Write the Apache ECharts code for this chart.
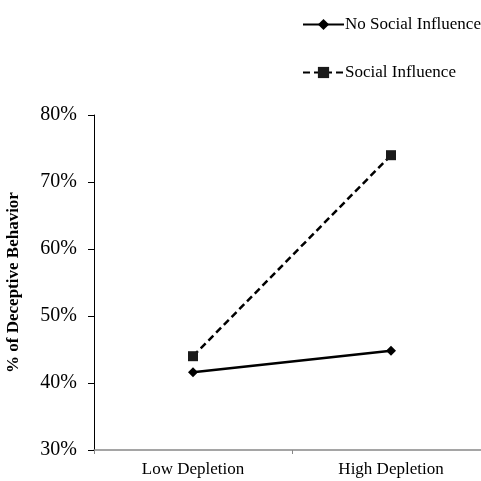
<!DOCTYPE html>
<html>
<head>
<meta charset="utf-8">
<script src="https://cdn.jsdelivr.net/npm/echarts@6/dist/echarts.min.js"></script>
<style>html,body{margin:0;padding:0;background:#fff;overflow:hidden;width:481px;height:481px}#c{width:490px;height:481px}</style>
</head>
<body>
<div id="c"></div>
<script>
var categories = ['Low Depletion', 'High Depletion'];
var noSocialInfluence = [41.6, 44.8];
var socialInfluence = [44.0, 74.0];
var seriesNames = ['No Social Influence', 'Social Influence'];
var yTicks = [30, 40, 50, 60, 70, 80];

var font = 'Liberation Serif';
var chart = echarts.init(document.getElementById('c'));
chart.setOption({
  animation: false,
  backgroundColor: '#fff',
  legend: {
    orient: 'vertical',
    left: 297,
    top: 11,
    itemWidth: 41,
    itemHeight: 14,
    itemGap: 31,
    data: seriesNames,
    textStyle: { fontFamily: font, fontSize: 17, lineHeight: 14, color: '#000', padding: [0, 0, 0, -4] }
  },
  grid: { left: 94, right: 0, top: 115, bottom: 31, outerBoundsMode: 'none', containLabel: false },
  xAxis: {
    type: 'category',
    data: categories,
    boundaryGap: true,
    splitLine: { show: false },
    axisLine: { lineStyle: { color: '#888', width: 1.5 } },
    axisTick: { show: true, length: 4, lineStyle: { color: '#888' } },
    axisLabel: { fontFamily: font, fontSize: 17, color: '#000', margin: 11 }
  },
  yAxis: {
    type: 'value',
    min: yTicks[0],
    max: yTicks[yTicks.length - 1],
    interval: 10,
    name: '% of Deceptive Behavior',
    nameLocation: 'middle',
    nameGap: 72,
    nameTextStyle: { fontFamily: font, fontSize: 17, fontWeight: 'bold', color: '#000' },
    splitLine: { show: false },
    axisLine: { show: true, lineStyle: { color: '#000', width: 1 } },
    axisTick: { show: true, length: 6, lineStyle: { color: '#000' } },
    axisLabel: { formatter: '{value}%', fontFamily: font, fontSize: 20, color: '#000', margin: 17 }
  },
  series: [
    {
      name: seriesNames[0], type: 'line', data: noSocialInfluence,
      symbol: 'diamond', symbolSize: 10,
      lineStyle: { color: '#000', width: 2.5 },
      itemStyle: { color: '#000' }
    },
    {
      name: seriesNames[1], type: 'line', data: socialInfluence,
      symbol: 'rect', symbolSize: 10,
      lineStyle: { color: '#000', width: 2.5, type: [7, 4] },
      itemStyle: { color: '#1a1a1a' }
    }
  ]
});
</script>
</body>
</html>
